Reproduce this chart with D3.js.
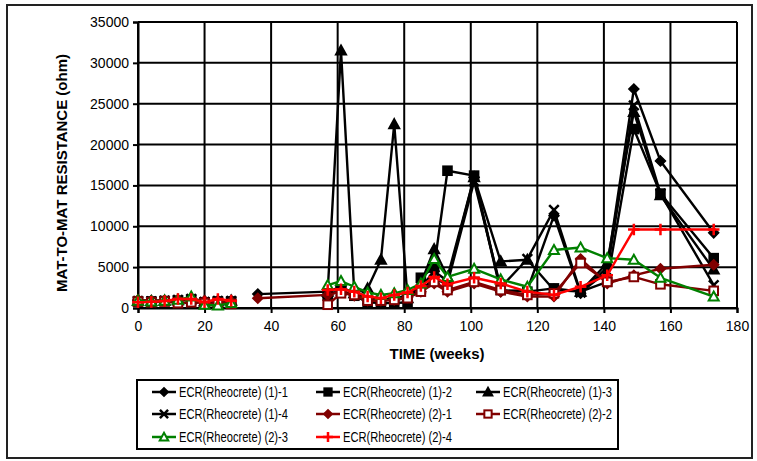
<!DOCTYPE html>
<html><head><meta charset="utf-8">
<script src="https://cdn.jsdelivr.net/npm/d3@7"></script>
<style>body{margin:0;background:#fff}svg{display:block}</style>
</head><body>
<script>
// ---- data ----
const weeks = [0,4,8,12,16,20,24,28,32,36,57,61,65,69,73,77,81,85,89,93,101,109,117,125,133,141,149,157,173];
const seriesNames = ["ECR(Rheocrete) (1)-1","ECR(Rheocrete) (1)-2","ECR(Rheocrete) (1)-3","ECR(Rheocrete) (1)-4",
                     "ECR(Rheocrete) (2)-1","ECR(Rheocrete) (2)-2","ECR(Rheocrete) (2)-3","ECR(Rheocrete) (2)-4"];
const s11 = [900,850,900,1000,1100,800,900,900,null,1700,2000,2600,1800,1200,1000,1200,1500,2500,4500,3300,16000,2000,2200,11300,1800,5000,26800,18000,9200];
const s12 = [800,800,850,900,1000,700,800,800,null,null,1500,2200,1500,700,600,600,700,3700,5000,16800,16200,2200,2000,2400,2000,3200,21900,14000,6100];
const s13 = [900,850,900,950,1100,800,800,900,null,null,2000,31500,1800,2400,5900,22500,1200,3000,7200,3800,16000,5700,5900,2200,2000,5500,24000,13800,4700];
const s14 = [850,800,900,1000,1100,750,850,850,null,null,1800,2000,1600,1000,900,1100,1400,2300,3500,3000,15500,2500,6000,12000,1900,4500,24800,14000,2800];
const s21 = [1000,900,950,1000,1100,900,800,800,null,1200,1600,2000,1500,900,900,1000,1300,2000,3000,2000,3000,2000,1400,1400,6000,3000,4000,4800,5300];
const s22 = [800,700,800,600,700,600,500,500,null,null,400,1800,1600,900,900,1000,1200,2000,3200,2200,3200,2200,1600,1800,5500,3200,3800,2900,2100];
const s23 = [900,800,900,1000,1400,400,300,600,null,null,2800,3300,2600,1900,1600,1800,2200,3000,6000,3800,4800,3500,2600,7100,7400,6100,5900,3700,1400];
const s24 = [700,750,850,1100,1100,700,1100,900,null,null,2200,2300,2000,1400,1200,1600,1900,2700,3800,2900,3700,3000,2000,1600,2600,4000,9600,9600,9600];
const xTicks = [0,20,40,60,80,100,120,140,160,180];
const yTicks = [0,5000,10000,15000,20000,25000,30000,35000];
const xTitle = "TIME (weeks)";
const yTitle = "MAT-TO-MAT RESISTANCE (ohm)";

const allSeries = [s11,s12,s13,s14,s21,s22,s23,s24];
const styles = [
  {color:"#000000", marker:"diamond", fill:"#000000"},
  {color:"#000000", marker:"square", fill:"#000000"},
  {color:"#000000", marker:"triangle", fill:"#000000"},
  {color:"#000000", marker:"x", fill:"none"},
  {color:"#800000", marker:"diamond", fill:"#800000"},
  {color:"#800000", marker:"square", fill:"#ffffff"},
  {color:"#008000", marker:"triangle", fill:"#ffffff"},
  {color:"#ff0000", marker:"plus", fill:"none"}
];

const W = 757, H = 461;
const svg = d3.select("body").append("svg").attr("width", W).attr("height", H);
svg.append("rect").attr("x",0).attr("y",0).attr("width",W).attr("height",H).attr("fill","#fff");
svg.append("rect").attr("x",7).attr("y",5).attr("width",745).attr("height",453)
  .attr("fill","none").attr("stroke","#222").attr("stroke-width",2);

const x = d3.scaleLinear().domain([0,180]).range([138,737]);
const y = d3.scaleLinear().domain([0,35000]).range([308,22]);

const font = "'Liberation Sans', Arial, sans-serif";

// grid
const g = svg.append("g");
g.selectAll("line.h").data(yTicks).join("line")
  .attr("x1", x(0)).attr("x2", x(180)).attr("y1", d=>y(d)).attr("y2", d=>y(d))
  .attr("stroke","#000").attr("stroke-width",2);
g.selectAll("line.v").data(xTicks).join("line")
  .attr("y1", y(0)).attr("y2", y(35000)).attr("x1", d=>x(d)).attr("x2", d=>x(d))
  .attr("stroke","#000").attr("stroke-width",2);

// axes
const yAxis = d3.axisLeft(y).tickValues(yTicks).tickSize(5).tickPadding(4).tickFormat(d3.format("d"));
const xAxis = d3.axisBottom(x).tickValues(xTicks).tickSize(5).tickPadding(8).tickFormat(d3.format("d"));
const ya = svg.append("g").attr("transform",`translate(${x(0)},0)`).call(yAxis);
const xa = svg.append("g").attr("transform",`translate(0,${y(0)})`).call(xAxis);
[ya,xa].forEach(a=>{
  a.select(".domain").attr("stroke","#000").attr("stroke-width",2);
  a.selectAll(".tick line").attr("stroke","#000").attr("stroke-width",2);
  a.selectAll(".tick text").attr("fill","#000").style("font-family",font).style("font-size","14px");
});

svg.append("text").attr("x",437).attr("y",359).attr("text-anchor","middle")
  .style("font-family",font).style("font-size","15px").style("font-weight","bold").text(xTitle);
svg.append("text").attr("transform","translate(67,173) rotate(-90)").attr("text-anchor","middle")
  .style("font-family",font).style("font-size","15px").style("font-weight","bold").text(yTitle);

// markers
function drawMarker(sel, type, cx, cy, st, s) {
  const k = s || 1;
  if (type==="diamond") {
    const r = 5*k;
    sel.append("path").attr("d",`M${cx},${cy-r}L${cx+r},${cy}L${cx},${cy+r}L${cx-r},${cy}Z`)
      .attr("fill",st.fill).attr("stroke",st.color).attr("stroke-width",1.5);
  } else if (type==="square") {
    const r = 4.3*k;
    sel.append("rect").attr("x",cx-r).attr("y",cy-r).attr("width",2*r).attr("height",2*r)
      .attr("fill",st.fill).attr("stroke",st.color).attr("stroke-width",2);
  } else if (type==="triangle") {
    const r = 5*k;
    sel.append("path").attr("d",`M${cx},${cy-r}L${cx+r},${cy+r*0.8}L${cx-r},${cy+r*0.8}Z`)
      .attr("fill",st.fill).attr("stroke",st.color).attr("stroke-width",2);
  } else if (type==="x") {
    const r = 4.8*k;
    sel.append("path").attr("d",`M${cx-r},${cy-r}L${cx+r},${cy+r}M${cx-r},${cy+r}L${cx+r},${cy-r}`)
      .attr("stroke",st.color).attr("stroke-width",2.5);
  } else if (type==="plus") {
    const r = 5.8*k;
    sel.append("path").attr("d",`M${cx-r},${cy}L${cx+r},${cy}M${cx},${cy-r}L${cx},${cy+r}`)
      .attr("stroke",st.color).attr("stroke-width",2.5);
  }
}

const line = d3.line().defined(d=>d.v!=null).x(d=>x(d.w)).y(d=>y(d.v));
allSeries.forEach((arr,i)=>{
  const st = styles[i];
  const pts = weeks.map((w,j)=>({w, v: arr[j]}));
  const sg = svg.append("g");
  sg.append("path").attr("d", line(pts)).attr("fill","none").attr("stroke",st.color)
    .attr("stroke-width",2.4).attr("stroke-linejoin","round");
  pts.filter(p=>p.v!=null).forEach(p=>drawMarker(sg, st.marker, x(p.w), y(p.v), st));
});

// legend
const lg = svg.append("g");
lg.append("rect").attr("x",137).attr("y",380).attr("width",481).attr("height",69)
  .attr("fill","#fff").attr("stroke","#000").attr("stroke-width",2);
const colX = [179,343,503], rowY = [392,414,437];
seriesNames.forEach((name,i)=>{
  const cx = colX[i%3], cy = rowY[Math.floor(i/3)], st = styles[i];
  lg.append("line").attr("x1",cx-27).attr("x2",cx-3).attr("y1",cy).attr("y2",cy)
    .attr("stroke",st.color).attr("stroke-width",2.5);
  drawMarker(lg, st.marker, cx-15, cy, st, 0.85);
  lg.append("text").attr("x",cx).attr("y",cy+5).style("font-family",font).style("font-size","14px")
    .attr("textLength",109).attr("lengthAdjust","spacingAndGlyphs").attr("fill","#000").text(name);
});
</script>
</body></html>
